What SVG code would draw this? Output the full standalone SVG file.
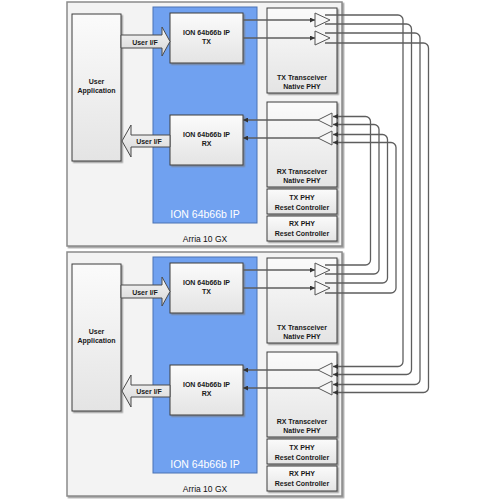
<svg xmlns="http://www.w3.org/2000/svg" width="500" height="500" viewBox="0 0 500 500">
<defs>
<linearGradient id="gBox" x1="0" y1="0" x2="0" y2="1"><stop offset="0" stop-color="#fbfbfb"/><stop offset="1" stop-color="#e4e4e4"/></linearGradient>
<linearGradient id="gArr" x1="0" y1="0" x2="0" y2="1"><stop offset="0" stop-color="#f6f6f6"/><stop offset="1" stop-color="#d6d6d6"/></linearGradient>
<filter id="sh" x="-10%" y="-10%" width="130%" height="130%"><feDropShadow dx="1.5" dy="1.5" stdDeviation="0.7" flood-color="#7a7a7a" flood-opacity="0.7"/></filter>
<marker id="ah" viewBox="0 0 6 6" refX="6" refY="3" markerWidth="5" markerHeight="5" markerUnits="userSpaceOnUse" orient="auto"><path d="M0,0 L6,3 L0,6 z" fill="#333"/></marker>
<style>
.board{fill:#f3f3f3;stroke:#8a8a8a;stroke-width:1.5;filter:url(#sh)}
.ip{fill:#70a1f0;stroke:#4a72b4;stroke-width:1}
.box{fill:url(#gBox);stroke:#3c3c3c;stroke-width:1;filter:url(#sh)}
.arr{fill:url(#gArr);stroke:#4a4a4a;stroke-width:1}
.buf{fill:#f7f7f7;stroke:#555;stroke-width:1}
.t{font-family:"Liberation Sans",Arial,sans-serif;font-size:7px;font-weight:bold;fill:#1a1a1a;text-anchor:middle}
.ipl{font-family:"Liberation Sans",Arial,sans-serif;font-size:10.5px;fill:#ffffff;text-anchor:middle}
.bl{font-family:"Liberation Sans",Arial,sans-serif;font-size:8.5px;fill:#111;text-anchor:middle}
.wa{fill:none;stroke:#5e5e5e;stroke-width:1.3;marker-end:url(#ah)}
</style>
</defs>

<!-- Board 1 -->
<g id="board1">
<rect class="board" x="67" y="2" width="275" height="244"/>
<text class="bl" x="205" y="242">Arria 10 GX</text>
</g>
<g id="ip1">
<rect class="ip" x="153" y="7" width="104" height="216"/>
<text class="ipl" x="205" y="218">ION 64b66b IP</text>
</g>
<g id="app1">
<rect class="box" x="72" y="14" width="49" height="147"/>
<text class="t" x="96.5" y="84">User</text>
<text class="t" x="96.5" y="93">Application</text>
</g>
<g id="iptx1">
<rect class="box" x="170" y="13" width="73" height="50"/>
<text class="t" x="206.5" y="35">ION 64b66b IP</text>
<text class="t" x="206.5" y="44">TX</text>
</g>
<g id="iprx1">
<rect class="box" x="170" y="115" width="73" height="50"/>
<text class="t" x="206.5" y="137">ION 64b66b IP</text>
<text class="t" x="206.5" y="146">RX</text>
</g>
<g id="txphy1">
<rect class="box" x="267" y="8" width="70" height="85"/>
<text class="t" x="302" y="80">TX Transceiver</text>
<text class="t" x="302" y="89">Native PHY</text>
<polygon class="buf" points="315,13 315,27 330,20"/>
<polygon class="buf" points="315,31 315,45 330,38"/>
</g>
<g id="rxphy1">
<rect class="box" x="267" y="102" width="70" height="85"/>
<text class="t" x="302" y="174">RX Transceiver</text>
<text class="t" x="302" y="183">Native PHY</text>
<polygon class="buf" points="332,113 332,127 318,120"/>
<polygon class="buf" points="332,131 332,145 318,138"/>
</g>
<g id="txrst1">
<rect class="box" x="267" y="189" width="70" height="25"/>
<text class="t" x="302" y="199.5">TX PHY</text>
<text class="t" x="302" y="209.5">Reset Controller</text>
</g>
<g id="rxrst1">
<rect class="box" x="267" y="216" width="70" height="25"/>
<text class="t" x="302" y="225.5">RX PHY</text>
<text class="t" x="302" y="235.5">Reset Controller</text>
</g>
<g id="uiftx1">
<polygon class="arr" points="121,35 162,35 162,27 170,41.5 162,56 162,48 121,48"/>
<text class="t" x="145" y="44.5">User I/F</text>
</g>
<g id="uifrx1">
<polygon class="arr" points="170,135 131,135 131,125 122,141 131,157 131,147 170,147"/>
<text class="t" x="149" y="143.5">User I/F</text>
</g>

<!-- Board 2 -->
<g id="board2">
<rect class="board" x="67" y="252" width="275" height="244"/>
<text class="bl" x="205" y="492">Arria 10 GX</text>
</g>
<g id="ip2">
<rect class="ip" x="153" y="257" width="104" height="216"/>
<text class="ipl" x="205" y="468">ION 64b66b IP</text>
</g>
<g id="app2">
<rect class="box" x="72" y="264" width="49" height="147"/>
<text class="t" x="96.5" y="334">User</text>
<text class="t" x="96.5" y="343">Application</text>
</g>
<g id="iptx2">
<rect class="box" x="170" y="263" width="73" height="50"/>
<text class="t" x="206.5" y="285">ION 64b66b IP</text>
<text class="t" x="206.5" y="294">TX</text>
</g>
<g id="iprx2">
<rect class="box" x="170" y="365" width="73" height="50"/>
<text class="t" x="206.5" y="387">ION 64b66b IP</text>
<text class="t" x="206.5" y="396">RX</text>
</g>
<g id="txphy2">
<rect class="box" x="267" y="258" width="70" height="85"/>
<text class="t" x="302" y="330">TX Transceiver</text>
<text class="t" x="302" y="339">Native PHY</text>
<polygon class="buf" points="315,263 315,277 330,270"/>
<polygon class="buf" points="315,281 315,295 330,288"/>
</g>
<g id="rxphy2">
<rect class="box" x="267" y="352" width="70" height="85"/>
<text class="t" x="302" y="424">RX Transceiver</text>
<text class="t" x="302" y="433">Native PHY</text>
<polygon class="buf" points="332,363 332,377 318,370"/>
<polygon class="buf" points="332,381 332,395 318,388"/>
</g>
<g id="txrst2">
<rect class="box" x="267" y="439" width="70" height="25"/>
<text class="t" x="302" y="449.5">TX PHY</text>
<text class="t" x="302" y="459.5">Reset Controller</text>
</g>
<g id="rxrst2">
<rect class="box" x="267" y="466" width="70" height="25"/>
<text class="t" x="302" y="475.5">RX PHY</text>
<text class="t" x="302" y="485.5">Reset Controller</text>
</g>
<g id="uiftx2">
<polygon class="arr" points="121,285 162,285 162,277 170,291.5 162,306 162,298 121,298"/>
<text class="t" x="145" y="294.5">User I/F</text>
</g>
<g id="uifrx2">
<polygon class="arr" points="170,385 131,385 131,375 122,391 131,407 131,397 170,397"/>
<text class="t" x="149" y="393.5">User I/F</text>
</g>

<!-- Connectors -->
<g id="connectors">
<path class="wa" d="M243,20 H315"/>
<path class="wa" d="M243,38 H315"/>
<path class="wa" d="M243,270 H315"/>
<path class="wa" d="M243,288 H315"/>
<path class="wa" d="M318,120 H243"/>
<path class="wa" d="M318,138 H243"/>
<path class="wa" d="M318,370 H243"/>
<path class="wa" d="M318,388 H243"/>
<path class="wa" d="M325,15 H398 A5,5 0 0 1 403,20 V361.5 A5,5 0 0 1 398,366.5 H333"/>
<path class="wa" d="M325,24 H406.5 A5,5 0 0 1 411.5,29 V369.5 A5,5 0 0 1 406.5,374.5 H333"/>
<path class="wa" d="M325,33 H415 A5,5 0 0 1 420,38 V379.5 A5,5 0 0 1 415,384.5 H333"/>
<path class="wa" d="M325,43 H423.5 A5,5 0 0 1 428.5,48 V387.5 A5,5 0 0 1 423.5,392.5 H333"/>
<path class="wa" d="M325,265 H365.5 A5,5 0 0 0 370.5,260 V121.5 A5,5 0 0 0 365.5,116.5 H333"/>
<path class="wa" d="M325,274 H374 A5,5 0 0 0 379,269 V129.5 A5,5 0 0 0 374,124.5 H333"/>
<path class="wa" d="M325,283 H382.5 A5,5 0 0 0 387.5,278 V139.5 A5,5 0 0 0 382.5,134.5 H333"/>
<path class="wa" d="M325,293 H391 A5,5 0 0 0 396,288 V147.5 A5,5 0 0 0 391,142.5 H333"/>
</g>
</svg>
